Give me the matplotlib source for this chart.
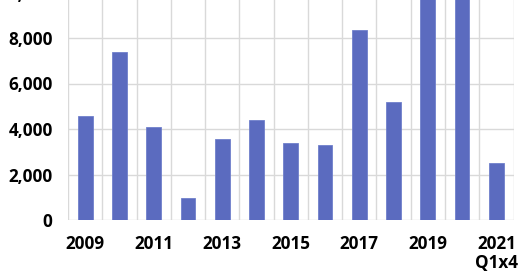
import matplotlib
matplotlib.use("Agg")
import matplotlib.pyplot as plt
from matplotlib.ticker import FuncFormatter

years = ["2009", "2010", "2011", "2012", "2013", "2014", "2015", "2016",
         "2017", "2018", "2019", "2020", "2021"]
values = [4570, 7370, 4090, 970, 3570, 4380, 3385, 3300, 8350, 5200, 10600, 10900, 2520]
tick_labels = ["2009", "", "2011", "", "2013", "", "2015", "", "2017", "", "2019", "", "2021\nQ1x4"]
y_ticks = [0, 2000, 4000, 6000, 8000, 10000]

W, H = 520, 272
fig = plt.figure(figsize=(W / 100, H / 100), dpi=100)
left, right, bottom, top = 68, 513.5, 220, -7.5
ax = fig.add_axes([left / W, 1 - bottom / H, (right - left) / W, (bottom - top) / H])

x = list(range(len(years)))
ax.bar(x, values, width=0.43, color="#5b6bbf", edgecolor="#7080cc", linewidth=0.6, zorder=3)

ax.set_xlim(-0.5, len(years) - 0.5)
ax.set_ylim(0, 10000)
ax.set_yticks(y_ticks)
ax.yaxis.set_major_formatter(FuncFormatter(lambda v, p: f"{int(v):,}"))
ax.set_xticks(x)
ax.set_xticklabels(tick_labels)

for b in range(len(years) + 1):
    ax.axvline(b - 0.5, color="#d9d9d9", linewidth=1.0, zorder=1)
for yt in y_ticks:
    ax.axhline(yt, color="#d9d9d9", linewidth=1.0, zorder=1)

for s in ax.spines.values():
    s.set_visible(False)
ax.tick_params(axis="both", length=0)
ax.tick_params(axis="y", pad=11)
ax.tick_params(axis="x", pad=10.5)
for lab in ax.get_xticklabels() + ax.get_yticklabels():
    lab.set_fontfamily("Open Sans")
    lab.set_fontweight("bold")
    lab.set_fontsize(12.3)
    lab.set_color("#000000")
for lab in ax.get_xticklabels():
    lab.set_linespacing(1.1)

fig.savefig("out.png", dpi=100)
